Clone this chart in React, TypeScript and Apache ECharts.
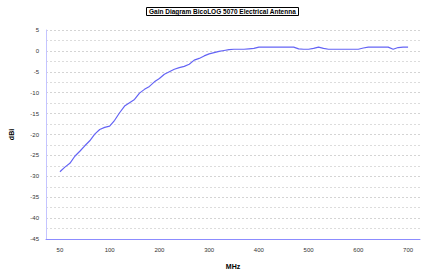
import React, { useEffect, useRef } from "react";
import * as echarts from "echarts";

const titleText = "Gain Diagram BicoLOG 5070 Electrical Antenna";
const xName = "MHz";
const yName = "dBi";

// frequency categories (MHz): 50..100 step 5, then 110..700 step 10
const frequencies: number[] = [
  50, 55, 60, 65, 70, 75, 80, 85, 90, 95, 100,
  110, 120, 130, 140, 150, 160, 170, 180, 190, 200,
  210, 220, 230, 240, 250, 260, 270, 280, 290, 300,
  310, 320, 330, 340, 350, 360, 370, 380, 390, 400,
  410, 420, 430, 440, 450, 460, 470, 480, 490, 500,
  510, 520, 530, 540, 550, 560, 570, 580, 590, 600,
  610, 620, 630, 640, 650, 660, 670, 680, 690, 700,
];

const gainDbi: number[] = [
  -28.9, -27.8, -26.9, -25.2, -24.0, -22.7, -21.5, -19.9, -18.8, -18.3, -18.0,
  -16.6, -14.8, -13.2, -12.4, -11.6, -10.1, -9.2, -8.5, -7.4, -6.6,
  -5.6, -5.0, -4.4, -4.0, -3.7, -3.2, -2.2, -1.8, -1.2, -0.7,
  -0.4, -0.1, 0.1, 0.3, 0.4, 0.4, 0.4, 0.5, 0.6, 0.9,
  0.9, 0.9, 0.9, 0.9, 0.9, 0.9, 0.9, 0.5, 0.4, 0.4,
  0.6, 0.9, 0.6, 0.4, 0.4, 0.4, 0.4, 0.4, 0.4, 0.4,
  0.7, 0.9, 0.9, 0.9, 0.9, 0.9, 0.4, 0.8, 0.9, 0.9,
];

const xLabelIndices: number[] = [0, 10, 20, 30, 40, 50, 60, 70];

export default function App() {
  const ref = useRef<HTMLDivElement>(null);

  useEffect(() => {
    document.body.style.margin = "0";
    if (!ref.current) return;
    const chart = echarts.init(ref.current, null, { renderer: "svg" });
    const font = "Liberation Sans, Arial, sans-serif";
    chart.setOption({
      animation: false,
      backgroundColor: "#ffffff",
      title: {
        text: titleText,
        left: 146,
        top: 7,
        padding: [1, 3],
        borderColor: "#000000",
        borderWidth: 1,
        textStyle: { fontSize: 6.5, fontWeight: "bold", color: "#000", fontFamily: font },
      },
      grid: { left: 41, top: 30, right: 1, bottom: 33 },
      xAxis: {
        type: "value",
        min: -2.8,
        max: 72.4,
        name: xName,
        nameLocation: "middle",
        nameGap: 24,
        nameTextStyle: { fontSize: 7, fontWeight: "bold", color: "#000", fontFamily: font },
        axisLine: { show: true, onZero: false, lineStyle: { color: "#8c8cff", width: 1 } },
        axisTick: { show: false },
        splitLine: { show: false },
        axisLabel: {
          customValues: xLabelIndices,
          formatter: (v: number) => String(frequencies[Math.round(v)] ?? ""),
          fontSize: 6,
          color: "#333",
          margin: 8,
          fontFamily: font,
        },
      },
      yAxis: {
        type: "value",
        min: -45,
        max: 5,
        interval: 5,
        name: yName,
        nameLocation: "middle",
        nameGap: 31,
        nameRotate: 90,
        nameTextStyle: { fontSize: 7, fontWeight: "bold", color: "#000", fontFamily: font },
        axisLine: { show: true, onZero: false, lineStyle: { color: "#c4c4ff", width: 1 } },
        axisTick: { show: false },
        axisLabel: { fontSize: 6, color: "#333", margin: 7, fontFamily: font },
        splitLine: { show: true, lineStyle: { color: "#d4d4d4", type: [2, 2], width: 1 } },
        minorTick: { show: false, splitNumber: 2 },
        minorSplitLine: { show: true, lineStyle: { color: "#dcdcdc", type: [2, 2], width: 1 } },
      },
      series: [
        {
          type: "line",
          data: gainDbi.map((v, i) => [i, v]),
          showSymbol: false,
          lineStyle: { color: "#6464f5", width: 1.2 },
        },
      ],
    });
    return () => chart.dispose();
  }, []);

  return <div ref={ref} style={{ width: 421, height: 275 }} />;
}
